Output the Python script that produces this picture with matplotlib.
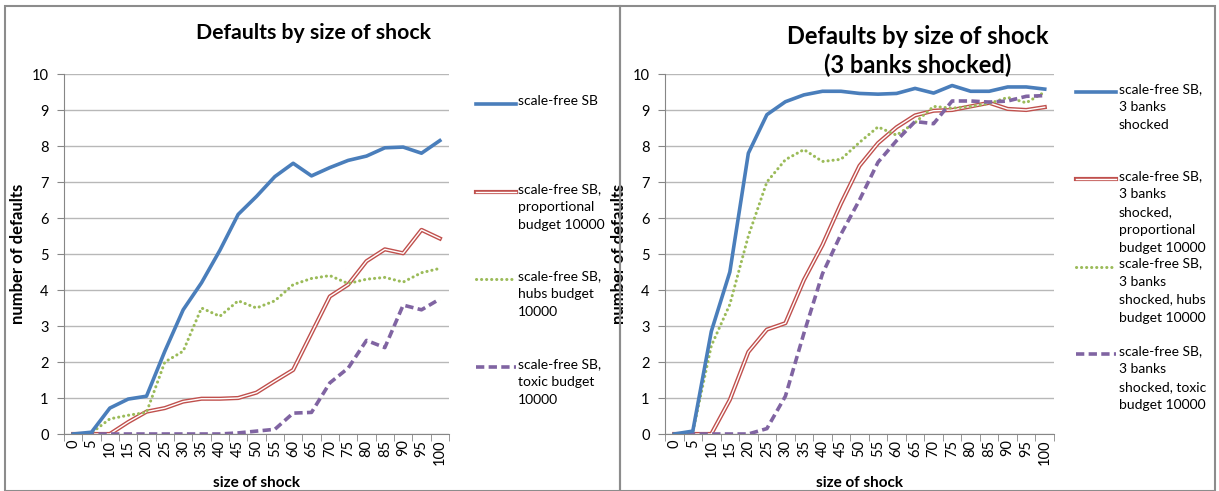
import matplotlib
matplotlib.use("Agg")
import matplotlib.pyplot as plt
from matplotlib.lines import Line2D
from matplotlib.patches import Rectangle
import numpy as np

plt.rcParams['font.family'] = ['Lato', 'DejaVu Sans']

# shock sizes (category axis)
shock = [0, 5, 10, 15, 20, 25, 30, 35, 40, 45, 50, 55, 60, 65, 70, 75, 80, 85, 90, 95, 100]

# left chart: one bank shocked
sf_sb = [0, 0.05, 0.72, 0.97, 1.05, 2.3, 3.45, 4.2, 5.1, 6.1, 6.6, 7.15, 7.52, 7.17, 7.4, 7.6, 7.72, 7.95, 7.97, 7.8, 8.15]
sf_prop = [0, 0, 0, 0.33, 0.62, 0.72, 0.9, 0.98, 0.98, 1.0, 1.15, 1.47, 1.78, 2.8, 3.82, 4.15, 4.8, 5.13, 5.02, 5.67, 5.43]
sf_hubs = [0, 0.03, 0.42, 0.52, 0.6, 2.0, 2.3, 3.5, 3.27, 3.7, 3.5, 3.7, 4.15, 4.32, 4.4, 4.18, 4.3, 4.35, 4.22, 4.48, 4.6]
sf_toxic = [0, 0, 0, 0, 0, 0, 0, 0, 0, 0.03, 0.08, 0.13, 0.58, 0.6, 1.42, 1.83, 2.6, 2.4, 3.58, 3.45, 3.75]

# right chart: three banks shocked
sb3 = [0, 0.08, 2.85, 4.5, 7.8, 8.87, 9.23, 9.42, 9.52, 9.52, 9.46, 9.44, 9.46, 9.6, 9.47, 9.68, 9.52, 9.52, 9.64, 9.64, 9.58]
sb3_prop = [0, 0, 0, 0.95, 2.28, 2.9, 3.08, 4.28, 5.25, 6.4, 7.45, 8.08, 8.52, 8.85, 8.98, 9.0, 9.1, 9.2, 9.03, 9.0, 9.08]
sb3_hubs = [0, 0.05, 2.45, 3.6, 5.5, 7.0, 7.62, 7.9, 7.57, 7.63, 8.1, 8.53, 8.3, 8.65, 9.1, 9.05, 9.1, 9.18, 9.35, 9.2, 9.5]
sb3_toxic = [0, 0, 0, 0, 0, 0.15, 1.05, 2.8, 4.45, 5.55, 6.5, 7.55, 8.15, 8.68, 8.62, 9.25, 9.25, 9.22, 9.25, 9.38, 9.4]

left_labels = ["scale-free SB",
               "scale-free SB,\nproportional\nbudget 10000",
               "scale-free SB,\nhubs budget\n10000",
               "scale-free SB,\ntoxic budget\n10000"]
right_labels = ["scale-free SB,\n3 banks\nshocked",
                "scale-free SB,\n3 banks\nshocked,\nproportional\nbudget 10000",
                "scale-free SB,\n3 banks\nshocked, hubs\nbudget 10000",
                "scale-free SB,\n3 banks\nshocked, toxic\nbudget 10000"]

BLUE = '#4a7ebb'
RED = '#c0504d'
GREEN = '#9bbb59'
PURPLE = '#8064a2'
DOTS = (0, (0.05, 1.6))
DASHES = (0, (2.3, 1.2))

W, H = 1219, 491
fig = plt.figure(figsize=(W / 100, H / 100), dpi=100)

# chart frames
fig.add_artist(Rectangle((5 / W, 0), 615 / W, 1 - 6 / H, transform=fig.transFigure,
                         fill=False, edgecolor='#8c8c8c', linewidth=1.5))
fig.add_artist(Rectangle((620 / W, 0), 595 / W, 1 - 6 / H, transform=fig.transFigure,
                         fill=False, edgecolor='#8c8c8c', linewidth=1.5))


def draw_series(ax, x, y, style):
    if style == 'blue':
        ax.plot(x, y, color=BLUE, lw=2.6, solid_joinstyle='round', zorder=4)
    elif style == 'red':
        ax.plot(x, y, color=RED, lw=3.0, zorder=3)
        ax.plot(x, y, color='white', lw=1.0, zorder=3)
    elif style == 'green':
        ax.plot(x, y, color=GREEN, lw=2.2, linestyle=DOTS,
                dash_capstyle='round', zorder=3)
    else:
        ax.plot(x, y, color=PURPLE, lw=2.6, linestyle=DASHES, zorder=3)


def legend_handle(x0, x1, y, style):
    xs = [x0 / W, x1 / W]
    ys = [1 - y / H, 1 - y / H]
    if style == 'blue':
        fig.add_artist(Line2D(xs, ys, color=BLUE, lw=2.6))
    elif style == 'red':
        fig.add_artist(Line2D(xs, ys, color=RED, lw=3.0))
        fig.add_artist(Line2D(xs, ys, color='white', lw=1.0))
    elif style == 'green':
        fig.add_artist(Line2D(xs, ys, color=GREEN, lw=2.2, linestyle=DOTS,
                              dash_capstyle='round'))
    else:
        fig.add_artist(Line2D(xs, ys, color=PURPLE, lw=2.6, linestyle=DASHES))


def setup_axes(ax):
    x = np.arange(len(shock))
    ax.set_xlim(-0.5, len(shock) - 0.5)
    ax.set_ylim(0, 10)
    ax.set_yticks(range(0, 11))
    ax.set_xticks(x)
    ax.set_xticklabels([str(s) for s in shock], rotation=90)
    ax.set_xticks(np.arange(-0.5, len(shock), 1.0), minor=True)
    ax.tick_params(axis='x', which='major', length=0, pad=4, labelsize=10.5, colors='black')
    ax.tick_params(axis='x', which='minor', length=5, direction='out', color='#868686')
    ax.tick_params(axis='y', length=5, direction='out', color='#868686', labelsize=10.5, pad=6)
    ax.grid(axis='y', color='#b8b8b8', linewidth=1.0)
    ax.set_axisbelow(True)
    for side in ['top', 'right']:
        ax.spines[side].set_visible(False)
    ax.spines['left'].set_color('#868686')
    ax.spines['bottom'].set_color('#868686')
    ax.set_xlabel('size of shock', fontsize=11, fontweight='bold', labelpad=8)
    ax.set_ylabel('number of defaults', fontsize=12, fontweight='bold', labelpad=4)
    return x


styles = ['blue', 'red', 'green', 'purple']

# left chart
ax1 = fig.add_axes([64 / W, 1 - 434 / H, 385 / W, 360 / H])
x = setup_axes(ax1)
for ys, st in zip([sf_sb, sf_prop, sf_hubs, sf_toxic], styles):
    draw_series(ax1, x, ys, st)
fig.text(313 / W, 1 - 33 / H, 'Defaults by size of shock', ha='center', va='center',
         fontsize=15.3, fontweight='bold')
for i, (lab, st) in enumerate(zip(left_labels, styles)):
    yy = 104 + i * 87.7
    legend_handle(476, 516, yy, st)
    fig.text(518 / W, 1 - (yy - 9) / H, lab, ha='left', va='top', fontsize=10,
             linespacing=1.6)

# right chart
ax2 = fig.add_axes([665 / W, 1 - 434 / H, 389 / W, 360 / H])
x = setup_axes(ax2)
for ys, st in zip([sb3, sb3_prop, sb3_hubs, sb3_toxic], styles):
    draw_series(ax2, x, ys, st)
fig.text(918 / W, 1 - 51 / H, 'Defaults by size of shock\n(3 banks shocked)', ha='center',
         va='center', fontsize=17, fontweight='bold', linespacing=1.3)
for i, (lab, st) in enumerate(zip(right_labels, styles)):
    yy = 92 + i * 87.3
    legend_handle(1076, 1116, yy, st)
    fig.text(1119 / W, 1 - (yy - 9) / H, lab, ha='left', va='top', fontsize=10,
             linespacing=1.6)

fig.savefig('out.png', dpi=100)
